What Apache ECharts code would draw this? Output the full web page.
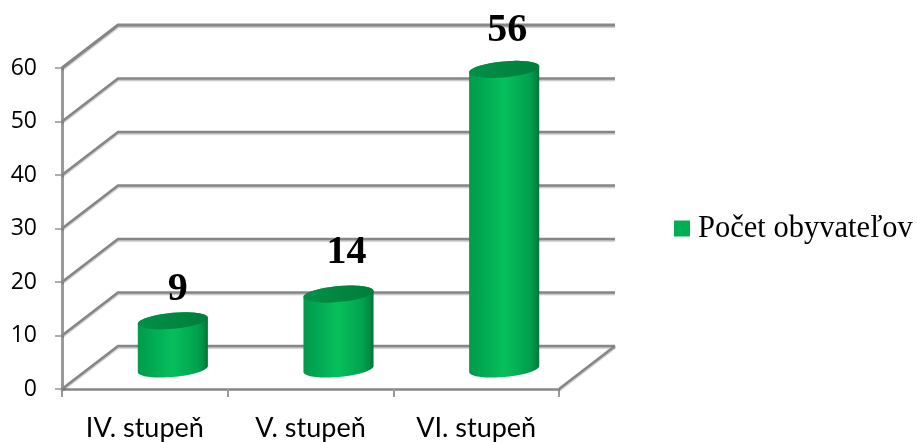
<!DOCTYPE html>
<html><head><meta charset="utf-8">
<style>html,body{margin:0;padding:0;background:#fff}#c{width:917px;height:442px}</style>
<script src="https://cdn.jsdelivr.net/npm/echarts@6/dist/echarts.min.js"></script>
</head><body><div id="c"></div>
<script>
const categories = ['IV. stupeň', 'V. stupeň', 'VI. stupeň'];
const seriesName = 'Počet obyvateľov';
const values = [9, 14, 56];
const wallTicks = [0, 10, 20, 30, 40, 50, 60];

// Oblique projection used to imitate the 3D look
const DEPTH_X = 56, DEPTH_Y = 43, MID_X = 28, MID_Y = 20;
const LABEL_LIFT = [31, 41, 39], LABEL_SHIFT = [5, 8, 3];
const GREY = '#868686';

function ellipsePts(cx, cy, a, b, k, t0, t1, n) {
  const p = [];
  for (let i = 0; i <= n; i++) {
    const t = t0 + (t1 - t0) * i / n;
    p.push([cx + a * Math.cos(t), cy + b * Math.sin(t) - k * Math.cos(t)]);
  }
  return p;
}
const lineStyle = w => ({ stroke: GREY, lineWidth: w, fill: null, shadowColor: 'rgba(0,0,0,0.22)', shadowOffsetY: 1.5, shadowBlur: 1 });

function renderWall(params, api) {
  const v = api.value(1);
  const g = params.coordSys;
  const y = api.coord([0, v])[1];
  const x0 = g.x, x1 = g.x + g.width;
  const children = [{
    type: 'polyline',
    shape: { points: [[x0, y], [x0 + DEPTH_X, y - DEPTH_Y], [x1 + DEPTH_X, y - DEPTH_Y]] },
    style: lineStyle(v === 60 ? 3.2 : 2.6)
  }];
  if (v === 0) {
    children.push({
      type: 'line',
      shape: { x1: x1, y1: y, x2: x1 + DEPTH_X, y2: y - DEPTH_Y },
      style: lineStyle(2.6)
    });
  }
  return { type: 'group', children };
}

function renderCylinder(params, api) {
  const idx = api.value(0), v = api.value(1);
  const base = api.coord([idx, 0]);
  const top = api.coord([idx, v]);
  const a = api.size([1, 0])[0] * 0.2115, b = 8, k = 3;
  const cx = base[0] + MID_X, by = base[1] - MID_Y, ty = top[1] - MID_Y;
  const body = ellipsePts(cx, by, a, b, k, 0, Math.PI, 40)
    .concat(ellipsePts(cx, ty, a, b, k, Math.PI, 2 * Math.PI, 40));
  const bodyFill = new echarts.graphic.LinearGradient(0, 0, 1, 0, [
    { offset: 0, color: '#009a4a' }, { offset: 0.15, color: '#00a651' },
    { offset: 0.5, color: '#07bf5c' }, { offset: 0.85, color: '#00a24f' },
    { offset: 0.95, color: '#008a42' }, { offset: 1, color: '#007038' }
  ]);
  const topFill = new echarts.graphic.LinearGradient(0, 0, 1, 0, [
    { offset: 0, color: '#009047' }, { offset: 0.6, color: '#00853f' }, { offset: 1, color: '#007e3c' }
  ]);
  return {
    type: 'group',
    children: [
      { type: 'polygon', shape: { points: body }, style: { fill: bodyFill } },
      { type: 'polygon', shape: { points: ellipsePts(cx, ty, a, b, k, 0, 2 * Math.PI, 60) }, style: { fill: topFill } },
      { type: 'text', z2: 10, x: cx + LABEL_SHIFT[idx], y: ty - LABEL_LIFT[idx],
        style: { text: String(v), fill: '#000', font: 'bold 40px "Liberation Serif"', align: 'center', verticalAlign: 'middle' } }
    ]
  };
}

const chart = echarts.init(document.getElementById('c'), null, { renderer: 'canvas' });
chart.setOption({
  animation: false,
  backgroundColor: '#fff',
  grid: { left: 62, right: 358, top: 68, bottom: 53 },
  legend: {
    data: [seriesName], left: 674, top: 213, icon: 'rect', itemWidth: 16, itemHeight: 16, itemGap: 0,
    selectedMode: false, padding: 0,
    textStyle: { fontFamily: 'Liberation Serif', fontSize: 30.5, color: '#000', padding: [0, 0, 0, 3] }
  },
  xAxis: {
    type: 'category', data: categories, boundaryGap: true,
    axisLine: { lineStyle: { color: GREY, width: 2.6 } },
    axisTick: { show: true, length: 8, alignWithLabel: false, lineStyle: { color: '#9a9a9a', width: 2 } },
    axisLabel: { fontFamily: 'Lato', fontSize: 27, color: '#000', margin: 26 }
  },
  yAxis: {
    type: 'value', min: 0, max: 60, interval: 10,
    axisLine: { show: true, lineStyle: { color: '#9a9a9a', width: 3 } },
    axisTick: { show: true, length: 7, lineStyle: { color: '#9a9a9a', width: 1.6 } },
    splitLine: { show: false },
    axisLabel: { fontFamily: 'Open Sans', fontSize: 23, color: '#000', margin: 25 }
  },
  series: [
    { type: 'custom', name: 'wall', silent: true, z: 1, renderItem: renderWall,
      encode: { x: 0, y: 1 }, data: wallTicks.map(t => [0, t]) },
    { type: 'custom', name: seriesName, z: 3, renderItem: renderCylinder,
      itemStyle: { color: '#00b050' },
      encode: { x: 0, y: 1 }, data: values.map((v, i) => [i, v]) }
  ]
});
</script></body></html>
